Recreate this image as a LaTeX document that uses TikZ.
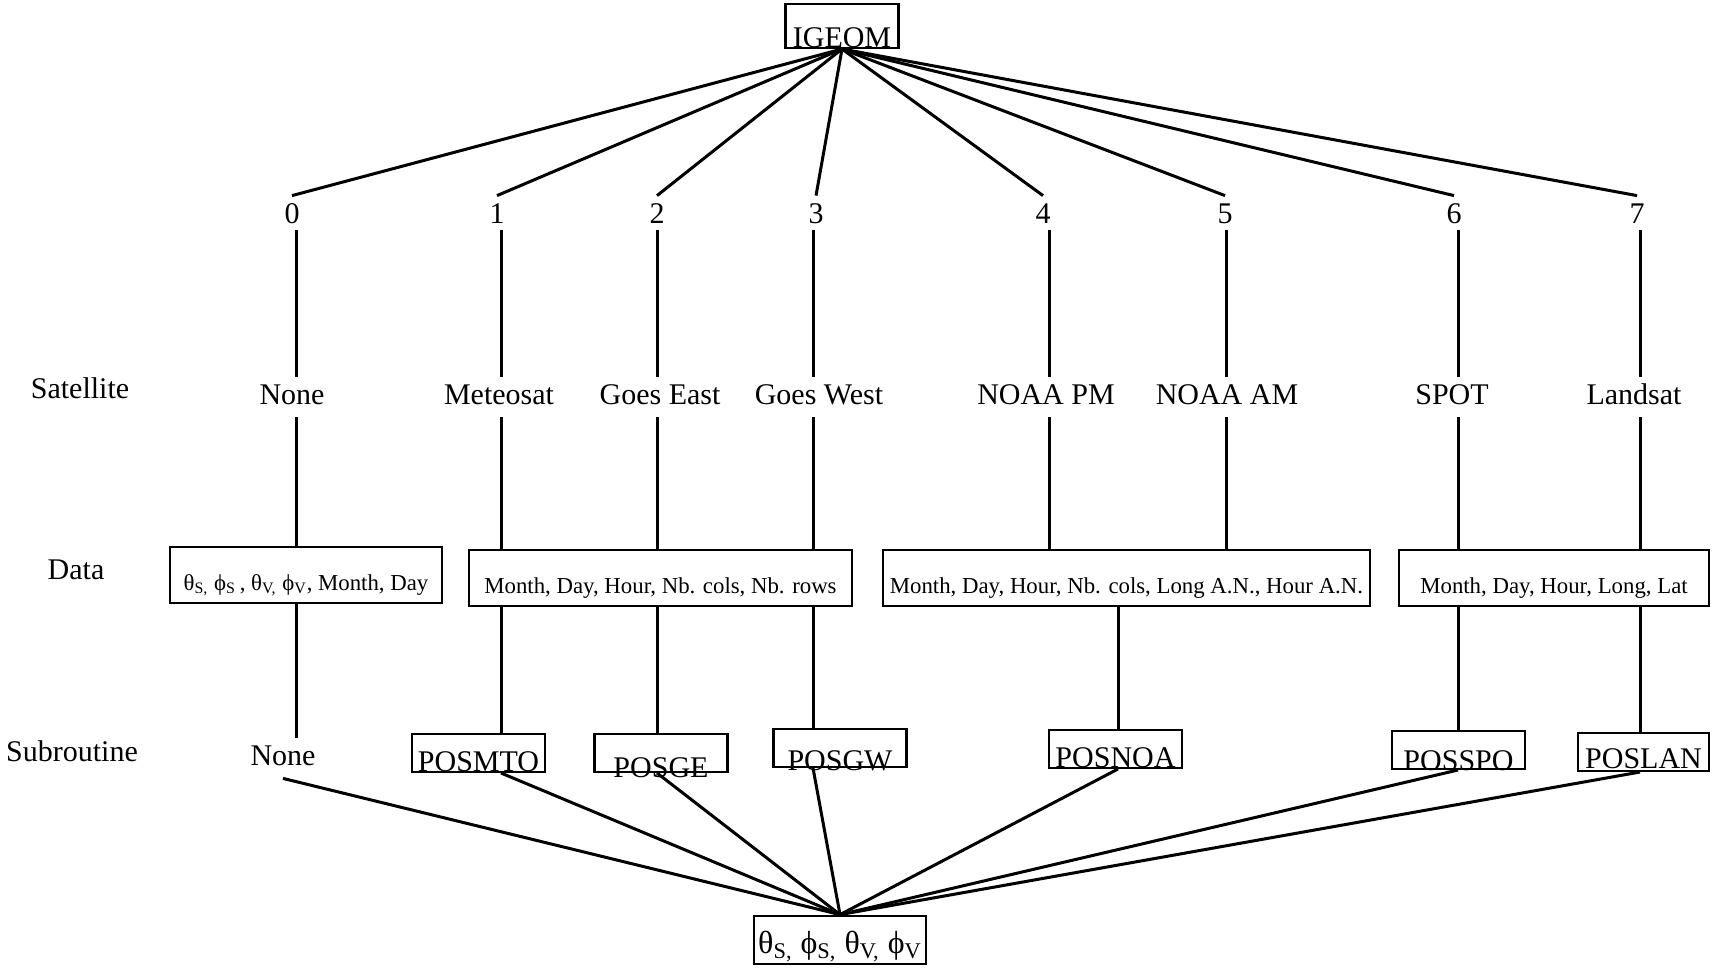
\documentclass[tikz,border=0pt]{standalone}
\usepackage{fontspec}
\setmainfont{Liberation Serif}
\begin{document}
\begin{tikzpicture}[x=0.5pt,y=-0.5pt,
  conn/.style={line width=1.5pt},
  lbl/.style={font=\fontsize{15}{18}\selectfont, inner xsep=1pt, inner ysep=3pt, text height=10.5pt, text depth=3.5pt},
  num/.style={font=\fontsize{15}{18}\selectfont, inner xsep=1pt, inner ysep=3.5pt, text height=10pt, text depth=0pt, anchor=base},
  databox/.style={draw, line width=1.2pt, font=\fontsize{11.4}{13}\selectfont, inner xsep=2pt, inner ysep=0pt, text height=21.5pt, text depth=6.5pt, anchor=base},
  subbox/.style={draw, line width=1.2pt, font=\fontsize{15}{18}\selectfont, inner xsep=2pt, inner ysep=0pt, minimum width=66.5pt, text height=19pt, text depth=0pt, anchor=south},
]
\useasboundingbox (0,0) rectangle (1713,970);

% column coordinates
\coordinate (c0) at (296,0);
\coordinate (c1) at (501,0);
\coordinate (c2) at (657,0);
\coordinate (c3) at (813,0);
\coordinate (c4) at (1049,0);
\coordinate (c5) at (1226,0);
\coordinate (c6) at (1458,0);
\coordinate (c7) at (1640,0);
\coordinate (cn) at (1118,0);

% top node
\node[draw, line width=1.2pt, font=\fontsize{15}{18}\selectfont, inner xsep=3pt, inner ysep=0pt, minimum width=56.5pt, text height=22pt, text depth=0pt, anchor=south] (igeom) at (842,49) {IGEOM};

% numbers
\node[num] (n0) at (292,223) {0};
\node[num] (n1) at (497,223) {1};
\node[num] (n2) at (657,223) {2};
\node[num] (n3) at (816,223) {3};
\node[num] (n4) at (1043,223) {4};
\node[num] (n5) at (1225,223) {5};
\node[num] (n6) at (1454,223) {6};
\node[num] (n7) at (1637,223) {7};

% row labels
\node[lbl] (rsat) at (80,391) {Satellite};
\node[lbl] (rdat) at (76,572) {Data};
\node[lbl] (rsub) at (72,754) {Subroutine};

% satellites
\node[lbl] (s0) at (292,397) {None};
\node[lbl] (s1) at (499,397) {Meteosat};
\node[lbl] (s2) at (660,397) {Goes East};
\node[lbl] (s3) at (819,397) {Goes West};
\node[lbl] (s4) at (1046,397) {NOAA PM};
\node[lbl] (s5) at (1227,397) {NOAA AM};
\node[lbl] (s6) at (1452,397) {SPOT};
\node[lbl] (s7) at (1634,397) {Landsat};

% data boxes
\node[databox, minimum width=136pt] (d0) at (306,590) {θ\textsubscript{S,} ϕ\textsubscript{S}\,, θ\textsubscript{V,} ϕ\textsubscript{V}, Month, Day};
\node[databox, minimum width=191.5pt] (d1) at (660.5,593) {Month, Day, Hour, Nb. cols, Nb. rows};
\node[databox, minimum width=243.5pt] (d2) at (1126.5,593) {Month, Day, Hour, Nb. cols, Long A.N., Hour A.N.};
\node[databox, minimum width=155pt] (d3) at (1554,593) {Month, Day, Hour, Long, Lat};

% subroutines
\node[lbl] (none) at (283,758) {None};
\node[subbox] (posmto) at (478.5,773) {POSMTO};
\node[subbox] (posge) at (661,773) {\raisebox{-3pt}{POSGE}};
\node[subbox] (posgw) at (840,768) {\raisebox{-2pt}{POSGW}};
\node[subbox] (posnoa) at (1115.5,769) {POSNOA};
\node[subbox] (posspo) at (1458.5,770) {\raisebox{-1pt}{POSSPO}};
\node[subbox, minimum width=65.5pt] (poslan) at (1643.5,772) {\raisebox{1pt}{POSLAN}};

% bottom node
\node[draw, line width=1.2pt, font=\fontsize{16}{19}\selectfont, inner xsep=2pt, inner ysep=0pt, minimum width=85pt, text height=19pt, text depth=5pt, anchor=south] (bot) at (840,965) {θ\textsubscript{S,} ϕ\textsubscript{S,} θ\textsubscript{V,} ϕ\textsubscript{V}};

% top fan
\foreach \n in {n0,n1,n2,n3,n4,n5,n6,n7}
  \draw[conn] (igeom.south) -- (\n.north);

% verticals: numbers to satellites
\draw[conn] (n0.south -| c0) -- (s0.north -| c0);
\draw[conn] (n1.south -| c1) -- (s1.north -| c1);
\draw[conn] (n2.south -| c2) -- (s2.north -| c2);
\draw[conn] (n3.south -| c3) -- (s3.north -| c3);
\draw[conn] (n4.south -| c4) -- (s4.north -| c4);
\draw[conn] (n5.south -| c5) -- (s5.north -| c5);
\draw[conn] (n6.south -| c6) -- (s6.north -| c6);
\draw[conn] (n7.south -| c7) -- (s7.north -| c7);

% satellites to data
\draw[conn] (s0.south -| c0) -- (d0.north -| c0);
\draw[conn] (s1.south -| c1) -- (d1.north -| c1);
\draw[conn] (s2.south -| c2) -- (d1.north -| c2);
\draw[conn] (s3.south -| c3) -- (d1.north -| c3);
\draw[conn] (s4.south -| c4) -- (d2.north -| c4);
\draw[conn] (s5.south -| c5) -- (d2.north -| c5);
\draw[conn] (s6.south -| c6) -- (d3.north -| c6);
\draw[conn] (s7.south -| c7) -- (d3.north -| c7);

% data to subroutines
\draw[conn] (d0.south -| c0) -- (none.north -| c0);
\draw[conn] (d1.south -| c1) -- (posmto.north -| c1);
\draw[conn] (d1.south -| c2) -- (posge.north -| c2);
\draw[conn] (d1.south -| c3) -- (posgw.north -| c3);
\draw[conn] (d2.south -| cn) -- (posnoa.north -| cn);
\draw[conn] (d3.south -| c6) -- (posspo.north -| c6);
\draw[conn] (d3.south -| c7) -- (poslan.north -| c7);

% bottom fan
\draw[conn] (none.south) -- (bot.north);
\draw[conn] (posmto.south -| c1) -- (bot.north);
\draw[conn] (posge.south -| c2) -- (bot.north);
\draw[conn] (posgw.south -| c3) -- (bot.north);
\draw[conn] (posnoa.south -| cn) -- (bot.north);
\draw[conn] (posspo.south -| c6) -- (bot.north);
\draw[conn] (poslan.south -| c7) -- (bot.north);
\end{tikzpicture}
\end{document}
